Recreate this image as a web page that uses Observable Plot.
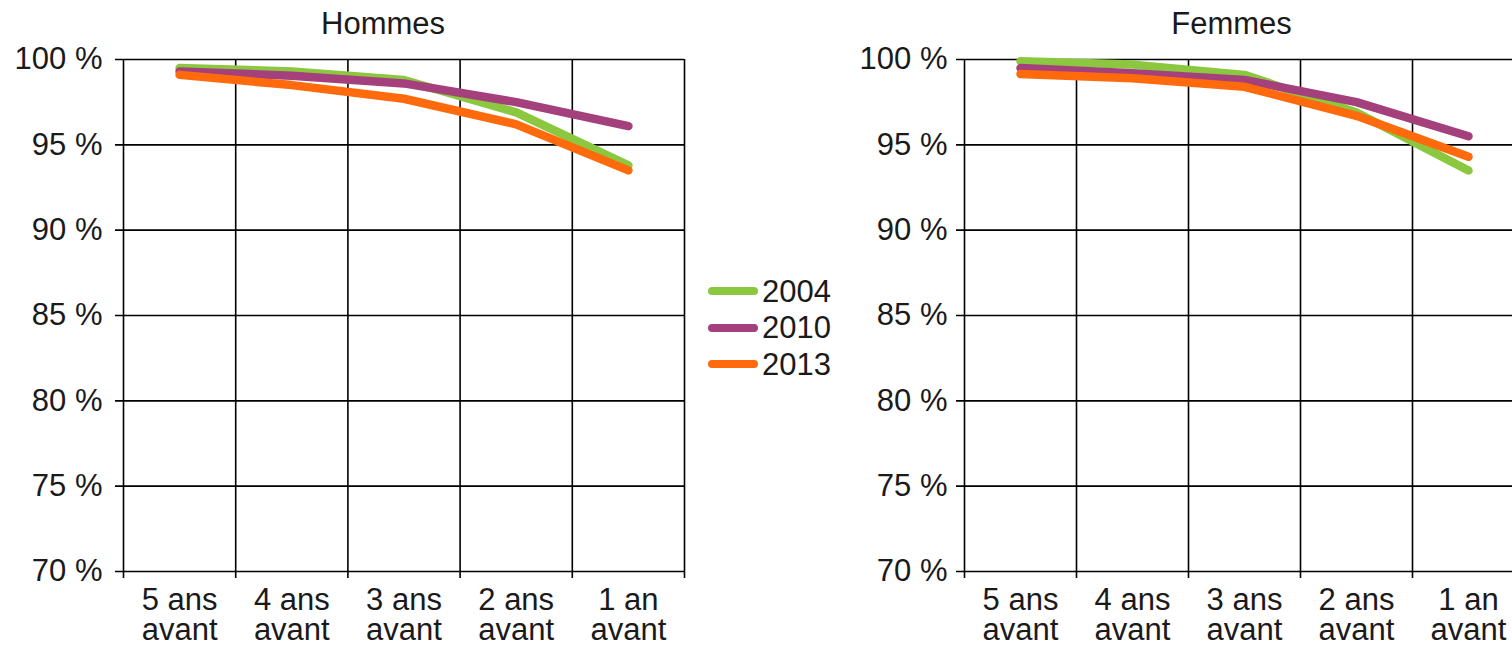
<!DOCTYPE html>
<html><head><meta charset="utf-8">
<script src="https://cdn.jsdelivr.net/npm/d3@7"></script>
<script src="https://cdn.jsdelivr.net/npm/@observablehq/plot@0.6"></script>
<style>
html,body{margin:0;padding:0;background:#fff;overflow:hidden;width:1512px;height:645px}
#wrap{position:relative;width:1512px;height:645px;overflow:hidden;font-family:"Liberation Sans",Arial,sans-serif;color:#1a1a1a}
.panel{position:absolute;top:0}
#legend{position:absolute;left:706px;top:273px}
.item{display:flex;align-items:center;height:36.5px;font-size:31px;line-height:1}
</style></head><body><div id="wrap"></div>
<script>
const categories = ["5 ans\navant", "4 ans\navant", "3 ans\navant", "2 ans\navant", "1 an\navant"];
const years = ["2004", "2010", "2013"];
const colors = ["#8cc83f", "#a4407b", "#ff6a0c"];
const yTicks = [70, 75, 80, 85, 90, 95, 100];
const titles = ["Hommes", "Femmes"];

const hommes2004 = [99.5, 99.3, 98.8, 96.9, 93.8];
const hommes2010 = [99.3, 99.05, 98.6, 97.5, 96.1];
const hommes2013 = [99.1, 98.5, 97.7, 96.2, 93.5];

const femmes2004 = [99.9, 99.7, 99.1, 96.9, 93.5];
const femmes2010 = [99.5, 99.2, 98.8, 97.5, 95.5];
const femmes2013 = [99.15, 98.9, 98.4, 96.7, 94.3];

const FONT = '"Liberation Sans", Arial, sans-serif';
const FS = 31;

function panel(title, series, opts) {
  const rows = series.flatMap((vals, s) => vals.map((v, i) => ({year: years[s], i, v})));
  const idx = d3.range(categories.length);
  const bounds = d3.range(categories.length + 1).map(i => i - 0.5);
  const yMin = d3.min(yTicks), yMax = d3.max(yTicks);
  const x0 = bounds[0], x1 = bounds[bounds.length - 1];
  return Plot.plot({
    width: 700, height: 645,
    marginLeft: opts.ml, marginRight: 16, marginTop: 59, marginBottom: 74,
    style: {fontFamily: FONT, fontSize: FS + "px", color: "#1a1a1a", background: "white", overflow: "visible"},
    x: {domain: [x0, x1], axis: null},
    y: {domain: [yMin, yMax], axis: null},
    color: {domain: years, range: colors},
    marks: [
      Plot.ruleY(yTicks, {x1: x0, x2: x1, insetLeft: -8, stroke: "#000", strokeWidth: 1.6}),
      Plot.ruleX(bounds, {y1: yMax, y2: yMin, insetBottom: -7, stroke: "#000", strokeWidth: 1.6}),
      Plot.axisY(yTicks, {tickSize: 0, tickPadding: opts.pad, tickFormat: d => d + " %", fontSize: FS, label: null}),
      Plot.axisX(idx, {tickSize: 0, tickPadding: 17, tickFormat: i => categories[i], lineHeight: 0.98, fontSize: FS, label: null}),
      Plot.line(rows, {x: "i", y: "v", z: "year", stroke: "year", strokeWidth: 8.5, strokeLinecap: "round", strokeLinejoin: "round"}),
      Plot.text([title], {frameAnchor: "top", lineAnchor: "middle", dy: -35, dx: opts.tdx, fontSize: FS})
    ]
  });
}

const wrap = document.getElementById("wrap");
const left = panel(titles[0], [hommes2004, hommes2010, hommes2013], {ml: 123, pad: 21, tdx: -21});
left.classList.add("panel"); left.style.left = "0px";
wrap.appendChild(left);
const right = panel(titles[1], [femmes2004, femmes2010, femmes2013], {ml: 124, pad: 17, tdx: -13});
right.classList.add("panel"); right.style.left = "840px";
wrap.appendChild(right);

const legend = document.createElement("div");
legend.id = "legend";
years.forEach((y, k) => {
  const item = document.createElement("div");
  item.className = "item";
  item.innerHTML = `<svg width="56" height="12"><line x1="6" y1="6" x2="48" y2="6" stroke="${colors[k]}" stroke-width="8" stroke-linecap="round"/></svg><span>${y}</span>`;
  legend.appendChild(item);
});
wrap.appendChild(legend);
</script></body></html>
